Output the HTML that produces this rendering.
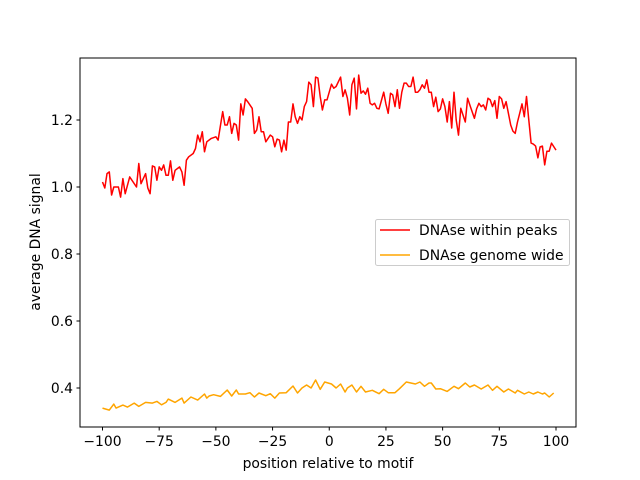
<!DOCTYPE html>
<html><head><meta charset="utf-8"><style>
body{margin:0;background:#fff}
svg{display:block;font-family:"DejaVu Sans","Liberation Sans",sans-serif}
</style></head><body>
<svg id="chart" width="640" height="480">
<rect x="0" y="0" width="640" height="480" fill="#fff"/>
<g id="plot"></g>
<rect x="80" y="58" width="496" height="369" fill="none" stroke="#000" stroke-width="1"/>
<g id="xticks"></g><g id="yticks"></g>
<text x="328" y="468" font-size="13.9" text-anchor="middle">position relative to motif</text>
<text transform="translate(40,242) rotate(-90)" font-size="13.9" text-anchor="middle">average DNA signal</text>
<g>
<rect x="375.5" y="219.5" width="194" height="46" rx="2" fill="#fff" fill-opacity="0.8" stroke="#ccc"/>
<line x1="380" y1="230" x2="410" y2="230" stroke="red" stroke-width="1.5"/>
<text x="419" y="235" font-size="13.9">DNAse within peaks</text>
<line x1="380" y1="255" x2="410" y2="255" stroke="orange" stroke-width="1.5"/>
<text x="419" y="260" font-size="13.9">DNAse genome wide</text>
</g>
</svg>
<script>
const peaksPos=[-100,-99,-98,-97,-96,-95,-93,-92,-91,-90,-88,-85,-84,-83,-81,-80,-79,-78,-77,-76,-75,-74,-73,-72,-71,-70,-69,-68,-66,-65,-64,-63,-62,-60,-59,-58,-57,-56,-55,-54,-52,-50,-49,-47,-46,-45,-44,-43,-42,-41,-40,-39,-38,-37,-36,-34,-33,-32,-31,-30,-29,-28,-26,-25,-24,-23,-22,-21,-20,-19,-18,-17,-16,-15,-14,-13,-12,-11,-10,-9,-8,-7,-6,-5,-4,-3,-2,-1,1,2,3,5,6,7,8,9,10,11,12,13,14,15,16,17,18,19,20,21,22,24,25,26,27,28,29,30,31,32,33,34,35,36,37,38,39,40,41,42,43,44,45,46,47,48,49,50,51,52,53,54,55,56,57,58,59,60,61,62,63,64,65,66,67,68,69,70,71,72,73,74,75,76,77,78,79,80,81,82,83,84,85,86,87,88,89,90,91,92,93,94,95,96,97,98,100];
const peaksVal=[1.015,0.997,1.04,1.045,0.976,1.0,1.0,0.97,1.025,0.98,1.03,1.0,1.07,1.01,1.04,0.997,0.98,1.063,1.06,1.02,1.06,1.05,1.066,1.035,1.035,1.078,1.02,1.05,1.06,1.045,1.005,1.08,1.09,1.1,1.115,1.155,1.135,1.165,1.105,1.135,1.145,1.15,1.14,1.225,1.185,1.185,1.21,1.16,1.19,1.185,1.14,1.248,1.215,1.263,1.255,1.235,1.16,1.17,1.21,1.165,1.165,1.135,1.155,1.15,1.12,1.143,1.14,1.105,1.14,1.11,1.194,1.194,1.248,1.21,1.19,1.21,1.2,1.24,1.255,1.313,1.305,1.24,1.328,1.325,1.27,1.23,1.26,1.26,1.307,1.295,1.30,1.328,1.27,1.29,1.265,1.215,1.305,1.325,1.233,1.334,1.28,1.287,1.277,1.295,1.25,1.245,1.25,1.235,1.233,1.283,1.248,1.22,1.28,1.275,1.24,1.29,1.235,1.283,1.31,1.31,1.30,1.30,1.328,1.283,1.283,1.29,1.305,1.295,1.32,1.283,1.283,1.24,1.268,1.225,1.233,1.263,1.24,1.194,1.255,1.176,1.283,1.2,1.155,1.235,1.215,1.194,1.265,1.245,1.225,1.205,1.233,1.25,1.24,1.245,1.23,1.265,1.26,1.24,1.258,1.205,1.27,1.263,1.235,1.255,1.22,1.185,1.167,1.16,1.194,1.22,1.248,1.21,1.27,1.2,1.131,1.128,1.122,1.087,1.12,1.122,1.066,1.107,1.107,1.131,1.11];
const genomePos=[-100,-97,-95,-94,-91,-89,-86,-84,-81,-78,-76,-74,-72,-71,-68,-65,-64,-61,-58,-55,-54,-53,-51,-48,-45,-43,-41,-40,-37,-35,-33,-31,-28,-26,-24,-22,-19,-16,-14,-12,-10,-8,-6,-4,-2,1,3,5,7,8,10,12,14,16,19,22,24,26,29,31,34,38,40,42,44,45,47,49,52,55,57,60,62,64,67,70,72,74,77,79,82,83,86,88,90,92,94,95,97,99];
const genomeVal=[0.34,0.334,0.352,0.34,0.349,0.343,0.355,0.345,0.357,0.355,0.36,0.35,0.357,0.367,0.357,0.37,0.355,0.373,0.364,0.382,0.37,0.376,0.38,0.375,0.394,0.376,0.394,0.382,0.382,0.386,0.373,0.385,0.377,0.383,0.37,0.385,0.386,0.406,0.385,0.4,0.409,0.4,0.424,0.396,0.418,0.412,0.4,0.412,0.388,0.4,0.409,0.388,0.405,0.388,0.393,0.383,0.396,0.386,0.386,0.398,0.418,0.412,0.418,0.405,0.415,0.415,0.397,0.398,0.39,0.405,0.398,0.415,0.403,0.409,0.397,0.409,0.393,0.405,0.388,0.397,0.385,0.393,0.382,0.388,0.382,0.388,0.382,0.385,0.373,0.385];
const xTicks=[-100,-75,-50,-25,0,25,50,75,100];
const yTicks=[0.4,0.6,0.8,1.0,1.2];
const NS='http://www.w3.org/2000/svg';
function xs(p){return 102.5+(p+100)*2.2675;}
function ys(v){return 187-(v-1)*335;}
function mk(t,a){const e=document.createElementNS(NS,t);for(const k in a)e.setAttribute(k,a[k]);return e;}
const plot=document.getElementById('plot');
function line(px,vals,color,name){
  const d=px.map((p,i)=>(i?'L':'M')+xs(p).toFixed(1)+','+ys(vals[i]).toFixed(1)).join('');
  const el=mk('path',{d:d,fill:'none',stroke:color,'stroke-width':1.5,'stroke-linejoin':'round'});
  
  
  plot.appendChild(el);
}
line(peaksPos,peaksVal,'red','peaks-line');
line(genomePos,genomeVal,'orange','genome-line');
const xg=document.getElementById('xticks');
xTicks.forEach(t=>{
  const x=xs(t);
  const tk=mk('line',{x1:x,y1:427,x2:x,y2:430.5,stroke:'#000'});
  
  
  xg.appendChild(tk);
  const tx=mk('text',{x:x,y:446,'font-size':13.9,'text-anchor':'middle'});
  tx.textContent=(t<0?'\u2212'+(-t):t);
  
  
  xg.appendChild(tx);
});
const yg=document.getElementById('yticks');
yTicks.forEach(t=>{
  const y=ys(t);
  const tk=mk('line',{x1:76.5,y1:y,x2:80,y2:y,stroke:'#000'});
  
  
  yg.appendChild(tk);
  const tx=mk('text',{x:73,y:y+5,'font-size':13.9,'text-anchor':'end'});
  tx.textContent=t.toFixed(1);
  
  
  yg.appendChild(tx);
});
</script>
</body></html>
